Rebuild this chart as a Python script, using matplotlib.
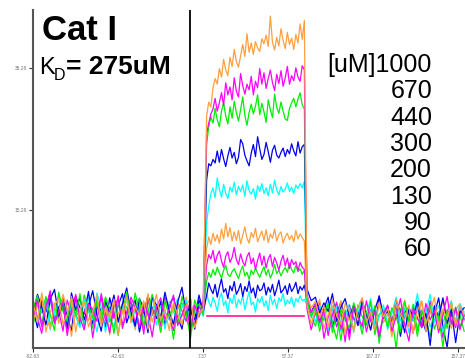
import numpy as np
import matplotlib
matplotlib.use('Agg')
import matplotlib.pyplot as plt

plt.rcParams['font.family'] = ['Liberation Sans', 'DejaVu Sans']

# phase windows (s)
base_start, base_end = -92.5, 7.5
assoc_start, assoc_end = 9.5, 67.0
diss_start, diss_end = 68.5, 161.0
inject_line = -0.3

xticks = [-92.63, -42.63, 7.37, 57.37, 107.37, 157.37]
yticks = [15.28, 35.28]
conc_labels = ['[uM]1000', '670', '440', '300', '200', '130', '90', '60']

colors = ['#ffa040', '#ff00ff', '#00ee00', '#0000ee', '#00ffff',
          '#ffa040', '#ff00ff', '#00ee00', '#0000ee', '#00ffff']

# response values, one trace per row
base = [
    [2.1, -0.5, 3.6, 0.2, -1.4, 1.8, 2.9, -0.8, 0.6, 3.1, -1.9, 1.2, 2.4, -0.3, 0.9, 3.3, -1.1, 1.5, 0.1, 2.7, -2.2, 1.0, 3.0, -0.6, 1.7, 0.4, 2.5, -1.5, 0.8, 3.4, -0.2, 1.3, -1.7, 2.2, 0.5, -0.9, 1.9, 2.8, -1.3, 0.7, 1.4],
    [0.4, 2.6, -1.2, 1.7, 3.9, -0.7, 0.9, 2.3, -2.4, 1.1, 3.2, 0.0, -1.6, 2.0, 1.3, -0.4, 3.5, 0.6, -2.0, 1.8, 2.7, -0.9, 0.3, 3.0, 1.5, -1.3, 2.2, 0.8, -2.6, 1.6, 2.9, -0.1, 1.2, 3.3, -1.0, 0.5, 2.1, -1.8, 1.9, 0.2, 2.5],
    [1.5, 3.2, -0.8, 2.4, 0.6, -1.7, 3.7, 1.0, -0.3, 2.8, 0.4, 3.5, -1.5, 1.9, 0.1, 2.6, -0.6, 3.0, 1.3, -2.1, 2.2, 0.7, 3.8, -0.4, 1.6, 2.9, -1.0, 0.9, 3.4, 1.1, -1.9, 2.5, 0.3, 1.8, -0.7, 3.1, 0.8, -2.8, 1.4, 2.0, 0.5],
    [0.8, 3.4, 1.6, -0.9, 2.7, 4.1, 0.3, 2.0, -1.4, 3.6, 1.2, 2.9, -0.2, 1.7, 3.9, 0.5, -1.8, 2.4, 1.0, 3.3, -0.5, 2.1, 4.3, 0.9, -1.1, 2.8, 1.4, -2.0, 3.0, 1.9, 0.2, 3.7, 1.1, -0.8, 2.3, 4.4, 0.6, 1.8, -1.5, 2.6, 1.3],
    [1.9, -0.4, 1.1, 2.5, -1.6, 0.7, 3.3, 1.4, -0.9, 2.0, 0.3, -1.3, 2.7, 1.0, -0.2, 3.6, 1.6, -1.9, 0.8, 2.3, -0.6, 1.5, 2.9, 0.1, -1.2, 2.1, 1.2, -0.7, 3.0, 0.5, 1.8, -1.5, 2.4, 0.9, -0.3, 1.7, 2.6, -1.0, 1.3, 0.2, 1.6],
    [-0.3, 1.8, 3.0, -1.9, 0.9, 2.2, -0.7, 3.4, 1.3, -2.5, 1.7, 0.4, 2.8, -1.2, 0.6, 3.1, -0.1, 1.9, -2.3, 2.5, 0.8, -0.9, 3.2, 1.0, -1.6, 2.3, 0.2, 3.5, -0.5, 1.4, -2.0, 2.6, 1.1, -1.1, 2.0, 0.3, 3.0, -1.4, 0.7, 2.4, 0.9],
    [2.4, 0.1, -2.1, 1.5, 3.0, -0.6, 1.2, -1.8, 2.6, 0.5, 3.4, -1.0, 0.8, 2.1, -2.7, 1.3, 2.9, -0.3, 1.6, 0.0, 3.2, -1.4, 1.0, 2.4, -0.8, 1.9, -2.2, 2.7, 0.6, 1.4, -1.1, 3.0, 0.2, -1.7, 2.2, 1.1, -0.4, 2.8, -1.2, 1.7, 0.6],
    [-0.9, 2.2, 0.8, 3.1, -1.1, 1.4, 0.0, 2.7, -2.0, 1.9, 0.5, -0.7, 3.3, 1.2, -1.4, 2.3, 0.6, 2.9, -0.5, 1.0, -2.4, 2.1, 1.6, -0.2, 3.6, 0.9, -1.3, 2.5, 0.4, 1.7, -0.9, 2.8, 1.0, -2.9, 1.5, 2.2, 0.1, -1.6, 2.6, 0.8, 1.2],
    [1.2, -1.3, 2.5, 0.9, 3.7, -0.4, 1.6, 2.8, 0.2, -1.7, 3.1, 1.5, 0.6, 3.8, -0.8, 2.2, 1.0, -1.2, 2.9, 0.4, 1.8, 3.5, -0.6, 1.3, 2.6, -1.9, 0.8, 3.2, 1.4, 0.0, 2.4, -1.0, 1.9, 3.0, 0.3, -1.5, 2.1, 1.1, -0.2, 3.3, 1.0],
    [0.5, 2.0, -1.0, 1.3, 2.6, -0.3, 0.9, 1.8, -1.5, 2.3, 0.2, 1.1, -0.8, 2.9, 0.6, -1.9, 1.5, 2.2, 0.0, -1.2, 1.9, 0.7, 2.7, -0.5, 1.2, -1.7, 2.0, 0.4, 1.6, -0.9, 2.5, 0.8, -0.2, 1.4, 2.8, -1.1, 0.9, 1.7, -0.6, 2.1, 0.3],
]

assoc = [
    [28.5, 30.5, 29.8, 32.5, 33.8, 33.0, 35.2, 34.0, 36.5, 35.0, 34.2, 36.8, 35.5, 37.9, 36.2, 35.4, 37.0, 38.6, 36.9, 40.1, 37.5, 38.8, 37.2, 39.0, 38.1, 37.6, 39.4, 38.7, 39.9, 38.3, 42.6, 38.9, 37.8, 39.6, 38.4, 40.8, 39.2, 38.0, 40.3, 38.6, 39.5, 37.9, 40.0, 38.8, 41.5, 39.3, 42.0],
    [26.0, 27.5, 28.8, 29.5, 31.0, 29.2, 30.4, 31.8, 30.0, 33.2, 31.5, 32.6, 30.8, 33.9, 32.0, 31.2, 34.5, 32.8, 31.6, 33.0, 32.2, 34.1, 31.5, 33.4, 32.5, 35.2, 33.0, 34.6, 32.4, 33.8, 35.0, 33.2, 32.1, 34.4, 33.1, 34.9, 32.7, 33.9, 35.5, 33.0, 34.2, 33.5, 35.3, 34.0, 33.4, 35.6, 35.0],
    [24.5, 27.0, 28.4, 27.5, 29.6, 28.0, 27.0, 29.2, 30.4, 28.5, 27.4, 29.8, 28.2, 30.6, 29.0, 27.8, 29.4, 31.2, 28.6, 27.2, 29.0, 30.2, 28.8, 29.9, 31.5, 28.7, 30.3, 29.1, 27.6, 30.8, 29.4, 28.3, 31.6, 29.7, 28.9, 30.5, 29.2, 28.1, 27.9, 29.6, 30.4, 31.0, 29.8, 30.9, 31.8, 30.1, 29.5],
    [19.5, 21.8, 21.5, 22.4, 21.9, 23.6, 22.0, 23.8, 22.5, 21.4, 22.9, 24.1, 22.6, 23.4, 21.8, 22.7, 25.2, 24.6, 23.0, 22.2, 21.5, 23.3, 24.5, 22.8, 25.6, 23.9, 22.4, 23.1, 24.8, 23.5, 22.0, 23.7, 24.4, 23.0, 22.6, 23.4, 24.0, 22.8, 23.8, 23.2, 24.6, 23.6, 22.9, 24.9, 23.3, 24.2, 24.5],
    [13.5, 15.8, 17.6, 18.4, 17.0, 19.8, 18.2, 17.1, 18.9, 17.6, 16.9, 18.5, 17.8, 19.2, 17.4, 18.6, 17.9, 18.8, 17.2, 19.4, 18.0, 17.5, 18.3, 16.8, 18.7, 17.9, 19.0, 17.6, 18.4, 17.3, 18.9, 17.7, 19.5, 18.1, 17.4, 18.6, 17.8, 18.2, 19.1, 17.9, 18.5, 17.6, 18.8, 18.3, 19.0, 18.4, 19.3],
    [9.8, 11.5, 10.4, 12.0, 10.9, 11.8, 10.6, 12.6, 11.2, 13.4, 11.5, 12.8, 10.9, 12.2, 11.0, 12.4, 10.5, 11.7, 12.9, 11.3, 10.6, 12.1, 11.4, 12.7, 10.8, 11.6, 12.3, 11.0, 12.5, 10.7, 11.9, 11.3, 12.6, 10.9, 11.8, 12.2, 10.6, 11.5, 12.0, 11.1, 11.7, 10.8, 12.4, 11.2, 11.9, 11.4, 10.9],
    [7.5, 9.0, 8.4, 9.6, 7.8, 8.9, 9.5, 8.1, 7.2, 8.8, 9.4, 7.9, 8.6, 10.0, 8.3, 7.6, 9.1, 8.0, 7.4, 8.7, 9.3, 7.7, 8.5, 6.9, 8.2, 9.2, 7.5, 8.8, 7.1, 8.4, 9.0, 7.3, 8.6, 7.8, 6.8, 8.1, 8.9, 7.4, 8.5, 7.0, 8.3, 7.6, 8.0, 6.7, 7.9, 7.2, 6.9],
    [5.2, 6.5, 5.8, 6.9, 6.1, 7.2, 6.4, 5.7, 6.8, 7.5, 6.2, 5.9, 6.6, 7.0, 6.3, 5.6, 6.7, 7.4, 6.0, 6.5, 5.5, 6.8, 6.2, 7.1, 6.4, 5.8, 6.6, 7.3, 6.1, 6.9, 5.7, 6.4, 7.6, 6.3, 6.8, 6.0, 6.7, 7.2, 6.5, 7.8, 6.9, 6.4, 7.5, 6.6, 7.0, 6.2, 6.8],
    [3.2, 5.0, 4.1, 3.5, 4.8, 3.0, 4.4, 5.6, 3.7, 4.2, 2.8, 4.6, 3.9, 5.2, 3.4, 4.0, 4.9, 3.1, 4.5, 3.8, 5.3, 3.6, 4.3, 2.9, 4.7, 3.9, 4.1, 5.0, 3.3, 4.4, 3.7, 4.8, 3.2, 4.2, 5.4, 3.6, 4.0, 4.6, 3.4, 4.9, 3.8, 4.3, 5.1, 3.5, 4.5, 4.0, 4.7],
    [3.5, 2.4, 1.6, 3.0, 2.2, 1.0, 2.8, 3.6, 1.8, 2.5, 0.8, 2.9, 2.1, 3.4, 1.5, 2.7, 2.0, 3.2, 1.2, 2.6, 3.8, 1.9, 2.3, 0.9, 2.8, 2.2, 3.1, 1.7, 2.5, 1.1, 3.3, 2.0, 2.7, 1.4, 2.9, 2.4, 3.5, 1.8, 2.6, 2.1, 3.0, 1.6, 2.8, 2.3, 3.2, 2.5, 2.7],
]

diss = [
    [3.2, 1.5, 2.4, 0.1, 1.8, -1.2, 2.6, 0.4, -0.8, 2.1, 1.0, -1.9, 1.6, 2.9, -0.5, 0.8, -1.6, 2.3, 0.2, 1.4, -1.0, 2.7, 0.6, -0.3, 1.9, -2.1, 1.1, 2.5, -0.7, 0.9, 3.0, -1.4, 1.3, 0.0, 2.2, -0.9, 1.7, 0.5],
    [3.6, 0.8, 2.0, -0.6, 1.2, -2.4, 0.5, 2.3, -1.5, 0.9, -3.0, 1.7, 0.2, -1.1, 2.5, -0.4, 1.0, -2.6, 0.7, 1.9, -1.8, 0.3, 2.8, -0.9, -3.2, 1.4, 0.1, -1.3, 2.1, -0.2, 1.1, -2.0, 0.6, 3.1, -0.8, 1.5, -1.6, 0.4],
    [2.8, 0.3, 1.6, -1.8, 0.9, 2.0, -0.7, -2.9, 1.3, 0.0, -1.4, 2.2, 0.5, -2.2, 1.0, -0.5, 1.8, -3.5, 0.7, -1.0, 1.5, 0.2, -1.9, 2.4, -0.3, 0.8, -2.5, 1.2, -0.8, 1.9, -1.5, 0.4, -4.0, 1.1, -0.6, 1.6, -1.2, 0.6],
    [4.2, 2.5, 3.0, 0.8, 2.2, 1.0, 3.5, -0.4, 1.6, 2.8, 0.2, 1.9, -1.0, 2.4, 0.6, -1.6, 1.3, 3.1, 0.0, 1.7, -0.9, 2.6, 0.9, -2.0, 1.4, 0.3, 2.3, -1.3, 0.7, -3.8, 1.8, 0.1, 2.9, -0.7, 1.2, -3.4, 0.8, 1.5],
    [2.4, 1.2, -0.5, 1.8, 0.6, -1.7, 1.4, 2.1, -0.9, 0.4, 1.6, -2.0, 0.9, 2.6, -0.2, 1.1, -1.3, 0.3, 1.9, -0.8, 0.7, 3.0, -1.5, 0.5, 1.5, -0.4, 2.2, -1.1, 0.8, 3.4, -0.6, 1.0, -1.9, 0.2, 1.7, -0.3, 2.0, 0.9],
    [2.0, -0.8, 1.1, 2.7, -1.5, 0.6, 1.8, -0.4, 2.5, -2.2, 0.9, 1.5, -1.0, 2.9, 0.1, -1.7, 1.3, 2.2, -0.6, 0.7, -2.6, 1.9, 0.4, 2.6, -1.2, 1.0, -0.2, 2.4, -1.8, 0.8, 1.6, -0.9, 2.8, 0.3, -1.4, 1.2, 2.1, 0.5],
    [1.4, -1.6, 0.7, 2.2, -2.8, 0.2, 1.5, -1.2, 0.9, -3.3, 1.8, 0.0, -0.9, 2.0, -1.9, 0.6, 1.3, -2.4, 0.4, 1.7, -0.7, 2.3, -1.4, 0.1, 1.0, -2.1, 1.6, 0.3, -1.0, 2.5, -0.5, 0.8, -2.7, 1.2, 0.5, -1.3, 1.9, -0.2],
    [1.8, 0.4, -1.1, 1.5, -0.3, 2.1, -2.0, 0.8, -3.1, 1.2, 0.0, -1.5, 1.9, 0.3, -0.8, 2.4, -2.3, 0.6, 1.1, -1.2, 0.2, -4.2, 1.4, 0.7, -0.6, 2.0, -1.7, 0.9, 0.1, -2.6, 1.6, -0.4, 1.0, -1.4, 2.2, -0.9, 0.5, -1.8],
    [2.6, 0.9, 2.1, -0.5, 1.4, 3.0, -1.2, 0.7, 2.3, 0.1, -2.1, 1.8, 0.5, 2.7, -0.9, 1.2, -1.6, 3.2, 0.3, 1.0, -0.7, 2.0, -2.5, 0.8, 1.6, -0.3, 2.4, 0.0, -1.8, 1.3, 0.6, 2.9, -1.1, -4.1, 1.5, -0.6, 1.1, 0.4],
    [1.9, 0.2, 1.3, -1.0, 0.8, 2.3, -0.6, 1.6, -1.8, 0.5, 2.0, -0.2, 1.1, -1.4, 0.7, 2.8, -0.9, 0.3, 1.7, -1.6, 0.9, 2.2, -0.4, 1.4, -2.0, 0.6, 3.5, -0.7, 1.2, -1.2, 0.4, 1.8, -0.5, 1.0, 2.5, -1.1, 0.8, 0.0],
]

# flat reference line during injection
ref_x = [assoc_start, assoc_end]
ref_y = [0.35, 0.35]

fig = plt.figure(figsize=(4.65, 3.58), dpi=100)
ax = fig.add_axes([33 / 465, 10 / 358, 1 - 33 / 465, 1 - 20 / 358])

ax.plot(ref_x, ref_y, color='#ff1493', lw=1.2, zorder=1)

for i in reversed(range(len(colors))):
    t = np.concatenate([np.linspace(base_start, base_end, len(base[i])),
                        np.linspace(assoc_start, assoc_end, len(assoc[i])),
                        np.linspace(diss_start, diss_end, len(diss[i]))])
    y = np.concatenate([base[i], assoc[i], diss[i]])
    ax.plot(t, y, color=colors[i], lw=0.9, zorder=2)

ax.axvline(inject_line, color='black', lw=1.3, zorder=3)

ax.set_xlim(-92.63, 161.5)
ax.set_ylim(-4.16, 43.45)
ax.set_xticks(xticks)
ax.set_xticklabels([f'{v:.2f}' for v in xticks])
ax.set_yticks(yticks)
ax.set_yticklabels([f'{v:.2f}' for v in yticks])
ax.tick_params(labelsize=3.5, labelcolor='#777777', length=3, width=0.8,
               color='#333333', pad=1)
for s in ['top', 'right']:
    ax.spines[s].set_visible(False)
for s in ['left', 'bottom']:
    ax.spines[s].set_color('#555555')
    ax.spines[s].set_linewidth(1.5)

fig.text(42 / 465, 1 - 40 / 358, 'Cat I', fontsize=25, fontweight='bold',
         va='baseline', ha='left')
fig.text(39 / 465, 1 - 74 / 358, 'K', fontsize=17, va='baseline', ha='left')
fig.text(54 / 465, 1 - 80 / 358, 'D', fontsize=11.5, va='baseline', ha='left')
fig.text(66 / 465, 1 - 74 / 358, '= 275uM', fontsize=19, fontweight='bold',
         va='baseline', ha='left')

for k, lab in enumerate(conc_labels):
    fig.text(432 / 465, 1 - (72 + 26.3 * k) / 358, lab, fontsize=18,
             va='baseline', ha='right')

fig.savefig('out.png', dpi=100)
